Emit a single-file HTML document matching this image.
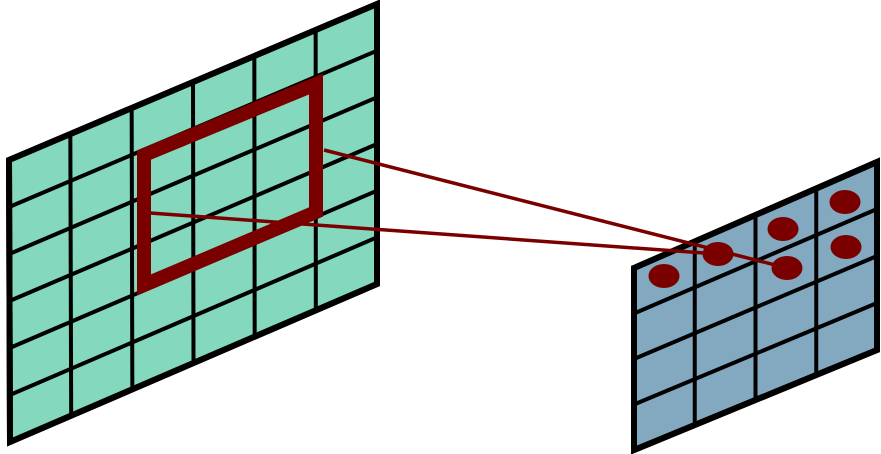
<!DOCTYPE html>
<html><head><meta charset="utf-8"><style>html,body{margin:0;padding:0;background:#fff;}svg{display:block}</style></head>
<body>
<svg width="881" height="454" viewBox="0 0 881 454">
<g id="left"></g>
<g id="right"></g>
<polygon points="144,155 316,84 316,212 144,285" fill="none" stroke="#7a0000" stroke-width="14" stroke-linejoin="miter"/>
<line x1="324" y1="150" x2="787" y2="268" stroke="#7a0000" stroke-width="3.5"/>
<line x1="150" y1="213" x2="718" y2="254" stroke="#7a0000" stroke-width="3.5"/>
<g id="dots"></g>
</svg>
<script>
const NS="http://www.w3.org/2000/svg";
function grid(g,tl,tr,br,bl,cols,rows,fill){
  const p=document.createElementNS(NS,"polygon");
  p.setAttribute("points",[tl,tr,br,bl].map(a=>a.join(",")).join(" "));
  p.setAttribute("fill",fill);p.setAttribute("stroke","#000");p.setAttribute("stroke-width","6");p.setAttribute("stroke-linejoin","miter");
  
  
  const L=(a,b,t)=>[a[0]+(b[0]-a[0])*t,a[1]+(b[1]-a[1])*t];
  for(let i=1;i<cols;i++){const t=i/cols,a=L(tl,tr,t),b=L(bl,br,t);
    const l=document.createElementNS(NS,"line");l.setAttribute("x1",a[0]);l.setAttribute("y1",a[1]);l.setAttribute("x2",b[0]);l.setAttribute("y2",b[1]);
    l.setAttribute("stroke","#000");l.setAttribute("stroke-width","4");
    
    
    g.appendChild(l);}
  for(let i=1;i<rows;i++){const t=i/rows,a=L(tl,bl,t),b=L(tr,br,t);
    const l=document.createElementNS(NS,"line");l.setAttribute("x1",a[0]);l.setAttribute("y1",a[1]);l.setAttribute("x2",b[0]);l.setAttribute("y2",b[1]);
    l.setAttribute("stroke","#000");l.setAttribute("stroke-width","4");
    
    
    g.appendChild(l);}
  g.insertBefore(p,g.firstChild);
  g.appendChild(p.cloneNode()).setAttribute("fill","none");
}
grid(document.getElementById("left"),[9,160],[377,4],[377,284],[10,442],6,6,"#84d8bd");
grid(document.getElementById("right"),[634,268],[877,162],[877,350],[634,450],4,4,"#82a9bf");
const dotX=[664,718,783,787,845,846];
const dotY=[276,254,229,268,202,247];
const dg=document.getElementById("dots");
for(let i=0;i<dotX.length;i++){
  const e=document.createElementNS(NS,"ellipse");
  e.setAttribute("cx",dotX[i]);e.setAttribute("cy",dotY[i]);e.setAttribute("rx",15.5);e.setAttribute("ry",12);e.setAttribute("fill","#7a0000");
  
  
  dg.appendChild(e);
}
</script>
</body></html>
